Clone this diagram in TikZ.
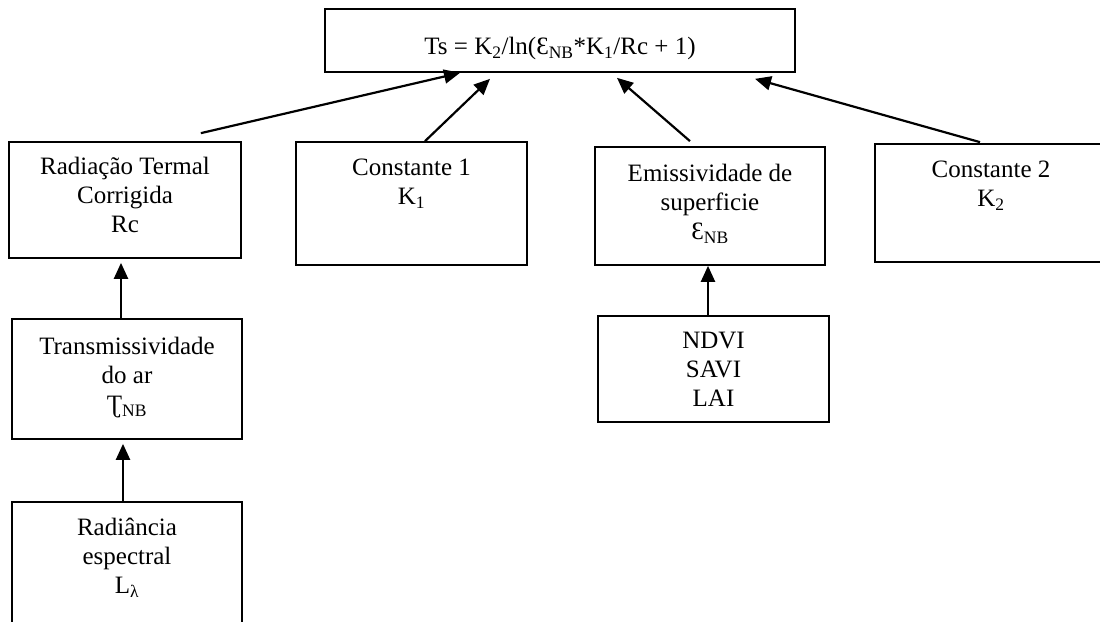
\documentclass[tikz,border=0pt]{standalone}
\usepackage{fontspec}
\setmainfont{Liberation Serif}
\usetikzlibrary{arrows.meta,positioning}
\tikzset{%
  BoxStyle/.style={draw,line width=1.7pt,inner sep=0pt},
  TextStyle/.style={align=center,inner sep=0pt,font=\fontsize{25}{29}\selectfont},
  ArrowStyle/.style={line width=2.2pt,-{Triangle[length=16pt,width=14pt]}}
}

\begin{document}
\begin{tikzpicture}[x=1pt,y=-1pt]
  \useasboundingbox (0,0) rectangle (1100,621);
  \node[BoxStyle,minimum width=470pt,minimum height=63pt] (ts) at (560,40.5) {};
  \node[BoxStyle,minimum width=232pt,minimum height=116pt] (rc) at (125,200) {};
  \node[BoxStyle,minimum width=231pt,minimum height=123pt] (k1) at (411.5,203.5) {};
  \node[BoxStyle,minimum width=230pt,minimum height=118pt] (eps) at (710,206) {};
  \node[BoxStyle,minimum width=232pt,minimum height=118pt] (k2) at (991,203) {};
  \node[BoxStyle,minimum width=230pt,minimum height=120pt] (tau) at (127,379) {};
  \node[BoxStyle,minimum width=230pt,minimum height=136pt] (ll) at (127,570) {};
  \node[BoxStyle,minimum width=231pt,minimum height=106pt] (ndvi) at (713.5,369) {};

  \node[TextStyle,below=29pt of ts.north] (ts-txt)
  {Ts = K\textsubscript{2}/ln(Ɛ\textsubscript{NB}*K\textsubscript{1}/Rc + 1)};
  \node[TextStyle,below=16pt of rc.north] (rc-txt) {Radiação Termal\\Corrigida\\Rc};
  \node[TextStyle,below=18pt of k1.north] (k1-txt) {Constante 1\\K\textsubscript{1}};
  \node[TextStyle,below=18pt of eps.north] (eps-txt)
  {Emissividade de\\superficie\\Ɛ\textsubscript{NB}};
  \node[TextStyle,below=18pt of k2.north] (k2-txt) {Constante 2\\K\textsubscript{2}};
  \node[TextStyle,below=19pt of tau.north] (tau-txt)
  {Transmissividade\\do ar\\Ʈ\textsubscript{NB}};
  \node[TextStyle,below=17pt of ll.north] (ll-txt) {Radiância\\espectral\\L\textsubscript{λ}};
  \node[TextStyle,below=17pt of ndvi.north] (ndvi-txt) {NDVI\\SAVI\\LAI};

  \draw[ArrowStyle] ([xshift=-41pt,yshift=8pt]rc.north east) -- ([xshift=-100pt]ts.south);
  \draw[ArrowStyle] ([xshift=13.5pt]k1.north) -- ([xshift=-70pt,yshift=-6pt]ts.south);
  \draw[ArrowStyle] ([xshift=-20pt,yshift=5pt]eps.north) -- ([xshift=57pt,yshift=-5pt]ts.south);
  \draw[ArrowStyle] ([xshift=-11pt,yshift=1pt]k2.north) -- ([xshift=195pt,yshift=-6pt]ts.south);
  \draw[ArrowStyle] ([xshift=-6pt]tau.north) -- ([xshift=-4pt,yshift=-4pt]rc.south);
  \draw[ArrowStyle] ([xshift=-4pt]ll.north) -- ([xshift=-4pt,yshift=-4pt]tau.south);
  \draw[ArrowStyle] ([xshift=-5.5pt]ndvi.north) -- ([xshift=-2pt]eps.south);
\end{tikzpicture}
\end{document}
